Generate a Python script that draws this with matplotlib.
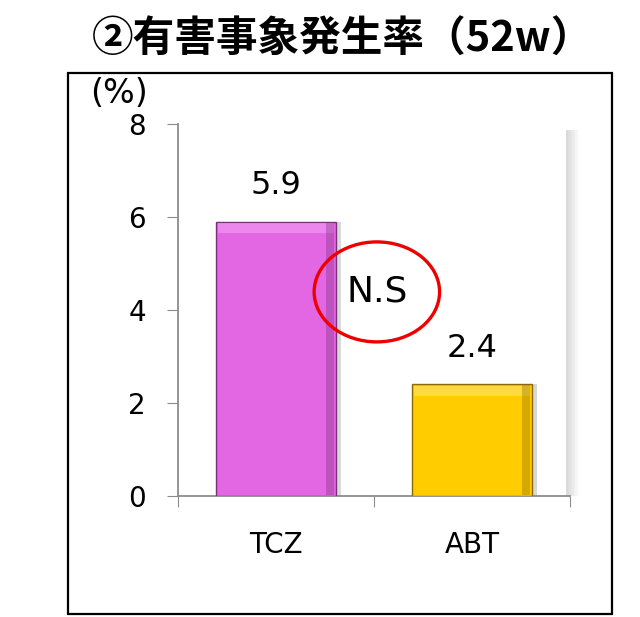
import matplotlib.pyplot as plt
from matplotlib.patches import Ellipse, Rectangle

plt.rcParams['font.family'] = ['Noto Sans CJK JP', 'DejaVu Sans']

title = '②有害事象発生率（52w）'
categories = ['TCZ', 'ABT']
values = [5.9, 2.4]
colors = ['#E366E3', '#FFCC00']
dark = ['#7A2F7A', '#8A6A00']
light = ['#F49CF4', '#FFE566']

fig = plt.figure(figsize=(6.4, 6.17), dpi=100)
ax = fig.add_axes([0.278, 0.196, 0.6125, 0.603])

# soft shadow of the plot wall
for k in range(8):
    ax.add_patch(Rectangle((0.99, 0.0), 0.004 * (k + 1), 0.985, transform=ax.transAxes,
                           color='gray', alpha=0.04, lw=0, clip_on=False, zorder=0))

x = list(range(len(categories)))
w = 0.61
# shadows behind bars
ax.bar([i + 0.025 for i in x], values, width=w, color='gray', alpha=0.3, lw=0, zorder=2)
ax.bar(x, values, width=w, color=colors, edgecolor=dark, linewidth=1.0, zorder=3)
# bevel highlight / dark side
for i, v in enumerate(values):
    ax.add_patch(Rectangle((i - w / 2 + 0.01, v - 0.25), w - 0.02, 0.22,
                           color=light[i], alpha=0.6, lw=0, zorder=4))
    ax.add_patch(Rectangle((i + w / 2 - 0.05, 0.02), 0.04, v - 0.04,
                           color=dark[i], alpha=0.35, lw=0, zorder=4))
    ax.annotate(f'{v}', (i, v), xytext=(0, 26), textcoords='offset points',
                ha='center', va='center', fontsize=23, family='DejaVu Sans')

ax.set_xlim(-0.5, 1.5)
ax.set_ylim(0, 8)
ax.set_yticks([0, 2, 4, 6, 8])
ax.set_xticks([-0.5, 0.5, 1.5])
ax.set_xticklabels([])
ax.tick_params(axis='y', length=8, color='#8C8C8C', labelsize=20, pad=15)
ax.tick_params(axis='x', length=8, color='#8C8C8C')
for lab in ax.get_yticklabels():
    lab.set_family('DejaVu Sans')
for i, c in enumerate(categories):
    ax.text(i, -1.05, c, ha='center', va='center', fontsize=20, family='DejaVu Sans')

for s in ['top', 'right']:
    ax.spines[s].set_visible(False)
for s in ['left', 'bottom']:
    ax.spines[s].set_color('#8C8C8C')
    ax.spines[s].set_linewidth(1.3)

# N.S marker
ax.add_patch(Ellipse((0.515, 4.39), 0.64, 2.15, fill=False, ec='#EE0000', lw=2.4, zorder=5))
ax.text(0.515, 4.39, 'N.S', ha='center', va='center', fontsize=26, family='DejaVu Sans', zorder=6)

fig.text(0.186, 0.848, '(%)', ha='center', va='center', fontsize=24, family='DejaVu Sans')
fig.text(0.535, 0.935, title, ha='center', va='center', fontsize=30, fontweight='bold')

# outer frame
fig.patches.append(Rectangle((0.106, 0.005), 0.850, 0.877, transform=fig.transFigure,
                             fill=False, ec='black', lw=1.6))

fig.savefig('out.png', dpi=100)
